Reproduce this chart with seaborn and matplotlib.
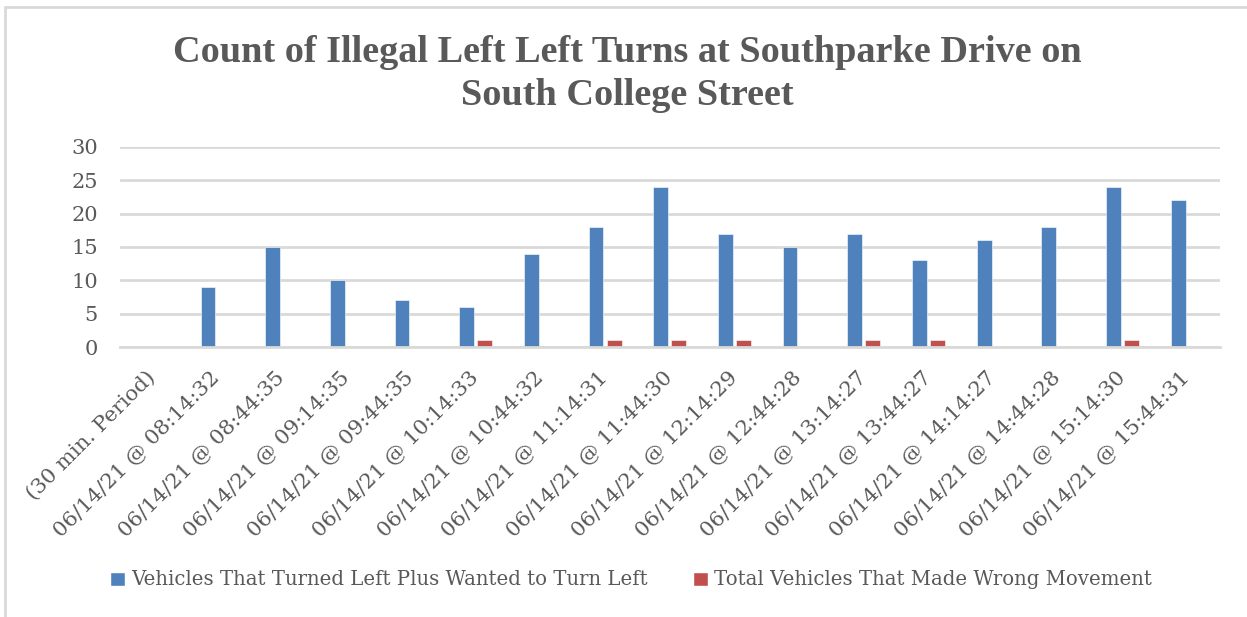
import matplotlib
matplotlib.use("Agg")
import matplotlib.pyplot as plt
from matplotlib.patches import Patch
from matplotlib.lines import Line2D
import seaborn as sns
import pandas as pd

# --- data -------------------------------------------------------------
periods = [
    "(30 min. Period)",
    "06/14/21 @ 08:14:32",
    "06/14/21 @ 08:44:35",
    "06/14/21 @ 09:14:35",
    "06/14/21 @ 09:44:35",
    "06/14/21 @ 10:14:33",
    "06/14/21 @ 10:44:32",
    "06/14/21 @ 11:14:31",
    "06/14/21 @ 11:44:30",
    "06/14/21 @ 12:14:29",
    "06/14/21 @ 12:44:28",
    "06/14/21 @ 13:14:27",
    "06/14/21 @ 13:44:27",
    "06/14/21 @ 14:14:27",
    "06/14/21 @ 14:44:28",
    "06/14/21 @ 15:14:30",
    "06/14/21 @ 15:44:31",
]
turned_left = [0, 9, 15, 10, 7, 6, 14, 18, 24, 17, 15, 17, 13, 16, 18, 24, 22]
wrong_movement = [0, 0, 0, 0, 0, 1, 0, 1, 1, 1, 0, 1, 1, 0, 0, 1, 0]
series_names = [
    "Vehicles That Turned Left Plus Wanted to Turn Left",
    "Total Vehicles That Made Wrong Movement",
]
y_ticks = [0, 5, 10, 15, 20, 25, 30]
title = "Count of Illegal Left Left Turns at Southparke Drive on\nSouth College Street"

# --- styling ----------------------------------------------------------
BLUE = "#4F81BD"
RED = "#C0504D"
TEXT = "#595959"
GRID = "#D9D9D9"

sns.set_theme(style="white")
plt.rcParams["font.family"] = ["DejaVu Serif"]

df = pd.concat([
    pd.DataFrame({"period": periods, "count": turned_left, "series": series_names[0]}),
    pd.DataFrame({"period": periods, "count": wrong_movement, "series": series_names[1]}),
])
df = df[df["count"] > 0]

fig = plt.figure(figsize=(12.47, 6.17), dpi=100)
fig.patch.set_facecolor("white")

ax = fig.add_axes([0.0962, 0.4376, 0.8818, 0.3242])
sns.barplot(
    data=df, x="period", y="count", hue="series",
    order=periods, hue_order=series_names,
    palette=[BLUE, RED], saturation=1, width=0.56, gap=0.18,
    edgecolor="#FFFFFF", linewidth=0.4,
    legend=False, ax=ax,
)

ax.set_xlim(-0.5, len(periods) - 0.5)
ax.set_ylim(0, 30)
ax.set_yticks(y_ticks)
ax.set_xlabel("")
ax.set_ylabel("")
ax.yaxis.grid(True, color=GRID, linewidth=2)
ax.set_axisbelow(True)
for side in ["top", "right", "left"]:
    ax.spines[side].set_visible(False)
ax.spines["bottom"].set_color(GRID)
ax.spines["bottom"].set_linewidth(2)
ax.tick_params(axis="both", length=0)
ax.tick_params(axis="y", pad=16, labelsize=15, labelcolor=TEXT)
ax.tick_params(axis="x", pad=20, labelsize=15.3, labelcolor=TEXT)
for lbl in ax.get_xticklabels():
    lbl.set_rotation(45)
    lbl.set_ha("right")
    lbl.set_va("center")
    lbl.set_rotation_mode("anchor")

fig.text(0.503, 0.880, title, ha="center", va="center",
         fontsize=27.5, fontweight="bold", color=TEXT,
         family="Liberation Serif", linespacing=1.3)

handles = [Patch(facecolor=BLUE), Patch(facecolor=RED)]
fig.legend(handles, series_names, loc="center", ncol=2,
           bbox_to_anchor=(0.506, 0.06), frameon=False,
           fontsize=14.2, labelcolor=TEXT, handlelength=0.75,
           handleheight=0.72, handletextpad=0.3, columnspacing=2.3)

# chart frame
fig.add_artist(Line2D([0.004, 1.0], [0.989, 0.989], transform=fig.transFigure,
                      color=GRID, linewidth=2))
fig.add_artist(Line2D([0.004, 0.004], [0.0, 0.989], transform=fig.transFigure,
                      color=GRID, linewidth=2))

fig.savefig("out.png", dpi=100)
